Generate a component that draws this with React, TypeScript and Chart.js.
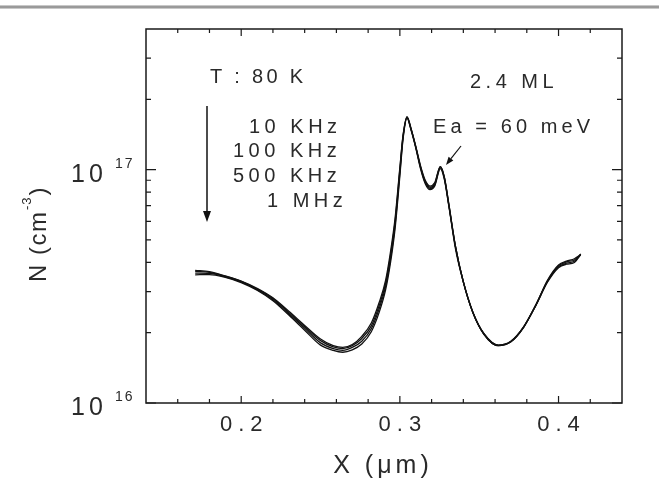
import React, { useEffect, useRef } from "react";
import { Chart, registerables } from "chart.js";

Chart.register(...registerables);

// Depth X (µm)
const X_UM = [0.171, 0.18, 0.19, 0.2, 0.21, 0.22, 0.23, 0.24, 0.25, 0.258, 0.264, 0.27, 0.276, 0.282, 0.287, 0.291, 0.294, 0.297, 0.3, 0.302, 0.3045, 0.307, 0.31, 0.313, 0.316, 0.319, 0.322, 0.3255, 0.328, 0.331, 0.335, 0.34, 0.346, 0.353, 0.362, 0.37, 0.378, 0.386, 0.393, 0.4, 0.405, 0.41, 0.414];

// N in units of 1e16 cm^-3
const N_10KHZ = [3.7, 3.65, 3.5, 3.33, 3.1, 2.82, 2.47, 2.15, 1.88, 1.76, 1.73, 1.78, 1.93, 2.2, 2.7, 3.35, 4.4, 6.2, 10.2, 14.0, 16.8, 15.0, 12.6, 10.4, 9.0, 8.5, 8.8, 10.3, 9.3, 7.0, 4.7, 3.3, 2.45, 1.98, 1.77, 1.84, 2.12, 2.65, 3.35, 3.9, 4.05, 4.15, 4.32];
const N_100KHZ = [3.66, 3.63, 3.49, 3.32, 3.08, 2.8, 2.44, 2.12, 1.85, 1.74, 1.71, 1.76, 1.89, 2.14, 2.62, 3.25, 4.25, 6.0, 10.0, 13.9, 16.8, 15.0, 12.5, 10.3, 8.9, 8.4, 8.7, 10.3, 9.3, 7.0, 4.7, 3.3, 2.45, 1.98, 1.77, 1.84, 2.12, 2.66, 3.33, 3.87, 4.02, 4.1, 4.33];
const N_500KHZ = [3.6, 3.59, 3.47, 3.3, 3.06, 2.77, 2.41, 2.09, 1.81, 1.71, 1.68, 1.73, 1.84, 2.08, 2.54, 3.15, 4.1, 5.8, 9.7, 13.7, 16.7, 14.9, 12.5, 10.2, 8.8, 8.3, 8.6, 10.2, 9.2, 6.9, 4.7, 3.3, 2.44, 1.97, 1.76, 1.83, 2.11, 2.65, 3.31, 3.83, 3.97, 4.05, 4.3];
const N_1MHZ = [3.54, 3.55, 3.45, 3.28, 3.04, 2.74, 2.38, 2.05, 1.77, 1.68, 1.65, 1.69, 1.79, 2.02, 2.45, 3.05, 3.95, 5.6, 9.4, 13.5, 16.6, 14.8, 12.4, 10.1, 8.7, 8.2, 8.5, 10.1, 9.1, 6.9, 4.6, 3.3, 2.44, 1.97, 1.76, 1.83, 2.11, 2.64, 3.29, 3.8, 3.93, 4.0, 4.35];

const SERIES_LABELS = ["10 KHz", "100 KHz", "500 KHz", "1 MHz"];
const SERIES_VALUES = [N_10KHZ, N_100KHZ, N_500KHZ, N_1MHZ];

const X_MIN = 0.14;
const X_MAX = 0.44;
const Y_MIN = 1e16;
const Y_MAX = 4e17;

const X_MAJOR_TICKS = [0.2, 0.3, 0.4];
const X_TICK_LABELS = ["0.2", "0.3", "0.4"];
const X_MINOR_TICKS = [0.16, 0.18, 0.22, 0.24, 0.26, 0.28, 0.32, 0.34, 0.36, 0.38, 0.42];
const Y_MAJOR_TICKS = [1e16, 1e17];
const Y_TICK_EXPONENTS = ["16", "17"];
const Y_MINOR_TICKS = [2e16, 3e16, 4e16, 5e16, 6e16, 7e16, 8e16, 9e16, 2e17, 3e17];

const X_TITLE = "X (μm)";
const Y_TITLE = "N (cm";
const Y_TITLE_SUP = "-3";
const Y_TITLE_END = ")";
const TEMP_LABEL = "T : 80 K";
const SAMPLE_LABEL = "2.4 ML";
const EA_LABEL = "Ea = 60 meV";

const FONT = '"Liberation Sans", Arial, Helvetica, sans-serif';
const TEXT = "#2a2a2a";

function drawSpaced(ctx: CanvasRenderingContext2D, text: string, x: number, y: number, spacing: number, align: "left" | "center" | "right") {
  const chars = Array.from(text);
  const widths = chars.map((c) => ctx.measureText(c).width);
  const total = widths.reduce((a, b) => a + b, 0) + spacing * (chars.length - 1);
  let cx = align === "left" ? x : align === "center" ? x - total / 2 : x - total;
  ctx.textAlign = "left";
  chars.forEach((c, i) => {
    ctx.fillText(c, cx, y);
    cx += widths[i] + spacing;
  });
  return total;
}

function arrow(ctx: CanvasRenderingContext2D, x1: number, y1: number, x2: number, y2: number, headLen: number, headW: number) {
  const ang = Math.atan2(y2 - y1, x2 - x1);
  const bx = x2 - headLen * Math.cos(ang);
  const by = y2 - headLen * Math.sin(ang);
  ctx.beginPath();
  ctx.moveTo(x1, y1);
  ctx.lineTo(bx, by);
  ctx.stroke();
  ctx.beginPath();
  ctx.moveTo(x2, y2);
  ctx.lineTo(bx + (headW / 2) * Math.sin(ang), by - (headW / 2) * Math.cos(ang));
  ctx.lineTo(bx - (headW / 2) * Math.sin(ang), by + (headW / 2) * Math.cos(ang));
  ctx.closePath();
  ctx.fill();
}

const decorPlugin = {
  id: "decor",
  beforeDraw(chart: any) {
    const ctx = chart.ctx as CanvasRenderingContext2D;
    ctx.save();
    ctx.fillStyle = "#ffffff";
    ctx.fillRect(0, 0, chart.width, chart.height);
    ctx.fillStyle = "#c8c8c8";
    ctx.fillRect(0, 5, chart.width, 4);
    ctx.fillStyle = "#9a9a9a";
    ctx.fillRect(0, 6, chart.width, 2);
    ctx.restore();
  },
  afterDraw(chart: any) {
    const ctx = chart.ctx as CanvasRenderingContext2D;
    const { left, right, top, bottom } = chart.chartArea;
    const xs = chart.scales.x;
    const ys = chart.scales.y;
    ctx.save();
    ctx.strokeStyle = "#1a1a1a";
    ctx.fillStyle = "#1a1a1a";
    ctx.lineWidth = 1.5;
    ctx.strokeRect(left, top, right - left, bottom - top);

    ctx.lineWidth = 1.2;
    const xTick = (v: number, len: number) => {
      const px = xs.getPixelForValue(v);
      ctx.beginPath();
      ctx.moveTo(px, bottom);
      ctx.lineTo(px, bottom - len);
      ctx.moveTo(px, top);
      ctx.lineTo(px, top + len);
      ctx.stroke();
    };
    X_MAJOR_TICKS.forEach((v) => xTick(v, 7));
    X_MINOR_TICKS.forEach((v) => xTick(v, 4));
    const yTick = (v: number, len: number) => {
      const py = ys.getPixelForValue(v);
      ctx.beginPath();
      ctx.moveTo(left, py);
      ctx.lineTo(left + len, py);
      ctx.moveTo(right, py);
      ctx.lineTo(right - len, py);
      ctx.stroke();
    };
    Y_MAJOR_TICKS.forEach((v) => yTick(v, 10));
    Y_MINOR_TICKS.forEach((v) => yTick(v, 5));

    // tick labels
    ctx.fillStyle = TEXT;
    ctx.textBaseline = "alphabetic";
    ctx.font = `22px ${FONT}`;
    X_MAJOR_TICKS.forEach((v, i) => {
      drawSpaced(ctx, X_TICK_LABELS[i], xs.getPixelForValue(v), 431, 6, "center");
    });
    Y_MAJOR_TICKS.forEach((v, i) => {
      const py = ys.getPixelForValue(v);
      ctx.font = `25px ${FONT}`;
      drawSpaced(ctx, "10", 71, py + 12, 4, "left");
      ctx.font = `14px ${FONT}`;
      drawSpaced(ctx, Y_TICK_EXPONENTS[i], 115, py - 2, 2, "left");
    });

    // axis titles
    ctx.font = `25px ${FONT}`;
    drawSpaced(ctx, X_TITLE, (left + right) / 2 - 3, 473, 4, "center");

    ctx.save();
    ctx.translate(46, 282);
    ctx.rotate(-Math.PI / 2);
    ctx.font = `24px ${FONT}`;
    const w1 = drawSpaced(ctx, Y_TITLE, 0, 0, 1.5, "left");
    ctx.font = `13px ${FONT}`;
    const w2 = drawSpaced(ctx, Y_TITLE_SUP, w1 + 2, -15, 1, "left");
    ctx.font = `24px ${FONT}`;
    drawSpaced(ctx, Y_TITLE_END, w1 + w2 + 4, 0, 0, "left");
    ctx.restore();

    // annotations
    ctx.font = `20px ${FONT}`;
    drawSpaced(ctx, TEMP_LABEL, 210, 83, 3.3, "left");
    drawSpaced(ctx, SAMPLE_LABEL, 470, 88, 4.5, "left");
    drawSpaced(ctx, EA_LABEL, 433, 133, 4.1, "left");
    const freqX = [249, 233, 233, 267];
    const freqY = [133, 157, 182, 207];
    SERIES_LABELS.forEach((s, i) => drawSpaced(ctx, s, freqX[i], freqY[i], 4.5, "left"));

    ctx.strokeStyle = "#111";
    ctx.fillStyle = "#111";
    ctx.lineWidth = 1.5;
    arrow(ctx, 207, 106, 207, 222, 11, 8);
    ctx.lineWidth = 1.2;
    arrow(ctx, 461, 146, 446, 165, 8, 6);
    ctx.restore();
  },
};

export default function App() {
  const ref = useRef<HTMLCanvasElement | null>(null);
  useEffect(() => {
    if (!ref.current) return;
    const datasets = SERIES_VALUES.map((vals, k) => ({
      label: SERIES_LABELS[k],
      data: X_UM.map((x, i) => ({ x, y: vals[i] * 1e16 })),
      borderColor: "#111111",
      borderWidth: 1.3,
      pointRadius: 0,
      fill: false,
      cubicInterpolationMode: "monotone" as const,
    }));
    const chart = new Chart(ref.current, {
      type: "line",
      data: { datasets },
      options: {
        responsive: false,
        animation: false,
        layout: { padding: { left: 146, right: 37, top: 29, bottom: 77 } },
        plugins: { legend: { display: false }, tooltip: { enabled: false } },
        scales: {
          x: { type: "linear", min: X_MIN, max: X_MAX, display: false },
          y: { type: "logarithmic", min: Y_MIN, max: Y_MAX, display: false },
        },
      },
      plugins: [decorPlugin],
    });
    return () => chart.destroy();
  }, []);
  return (
    <div style={{ position: "fixed", left: 0, top: 0, width: 659, height: 480, background: "#fff" }}>
      <canvas ref={ref} width={659} height={480} style={{ display: "block" }} />
    </div>
  );
}
